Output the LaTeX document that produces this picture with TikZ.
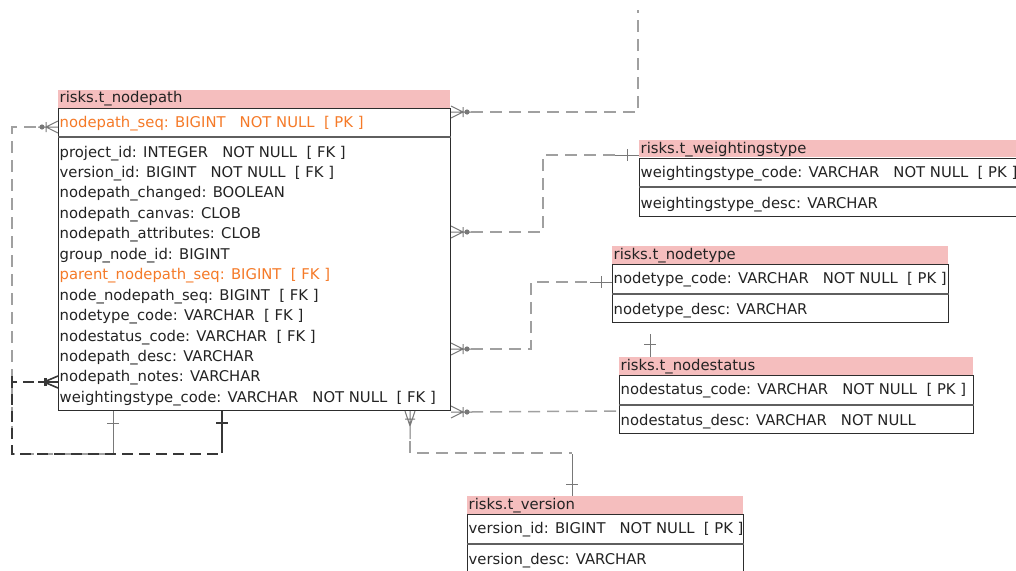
\documentclass[tikz,border=0pt]{standalone}
\usepackage{fontspec}
\newfontfamily\tabfont{DejaVu Sans}
\usetikzlibrary{calc}

\definecolor{hdrpink}{RGB}{245,190,190}
\definecolor{pkorange}{RGB}{245,122,40}
\definecolor{txtdark}{RGB}{35,35,35}
\definecolor{tblline}{RGB}{45,45,45}
\definecolor{divgrey}{RGB}{95,95,95}
\definecolor{relgrey}{RGB}{160,160,160}
\definecolor{relsolid}{RGB}{120,120,120}
\definecolor{selfdark}{RGB}{55,55,55}

\tikzset{
  tbl/.style={draw=tblline, line width=1pt, fill=white, inner sep=0pt, anchor=north west},
  hdr/.style={fill=hdrpink, inner sep=0pt, anchor=north west},
  txt/.style={anchor=base west, inner xsep=1.5pt, inner ysep=0pt,
              font=\tabfont\fontsize{14.8pt}{17pt}\selectfont, text=txtdark},
  pktxt/.style={txt, text=pkorange},
  divline/.style={draw=divgrey, line width=1.4pt},
  reldash/.style={draw=relgrey, line width=1.5pt, dash pattern=on 12pt off 7pt},
  relline/.style={draw=relsolid, line width=1pt},
  selfdash/.style={draw=selfdark, line width=2pt, dash pattern=on 11pt off 6pt},
  selfline/.style={draw=selfdark, line width=2pt},
  % zero-or-many end: crow's foot, bar and small circle
  manyopt/.pic={
    \draw[relline] (0,-6) -- (12,0) -- (0,6) (0,0) -- (20,0) (12,-5) -- (12,5);
    \fill[relsolid] (16,0) circle (2.6pt);
  },
  % one-or-many end: crow's foot with a bar
  manyone/.pic={
    \draw[relline] (0,-5) -- (15,0) -- (0,5) (0,0) -- (28,0) (8,-5) -- (8,5);
  },
  % bold crow's foot of the second self relation
  manydark/.pic={
    \draw[selfline, line width=1.6pt] (0,-6) -- (14,0) -- (0,6) (0,0) -- (20,0);
    \draw[selfline, line width=3pt] (13,-4) -- (13,4);
  },
}

\begin{document}
\begin{tikzpicture}[x=1pt,y=-1pt]
\useasboundingbox (0,0) rectangle (1016,570);
\clip (0,0) rectangle (1016,570);

% ---------------- risks.t_nodepath ----------------
\node[hdr, minimum width=392pt, minimum height=18pt] (nph) at (58,90) {};
\node[txt] (npt) at (58,102) {risks.t\_nodepath};
\node[tbl, minimum width=392pt, minimum height=302pt] (np) at (58,108) {};
\draw[divline] ($(np.north west)+(0,29)$) -- ($(np.north east)+(0,29)$);
\node[pktxt] (np-pk) at (58,127) {nodepath\_seq: BIGINT~~~NOT NULL~~[ PK ]};
\foreach \t [count=\i] in {
  {project\_id: INTEGER~~~NOT NULL~~[ FK ]},
  {version\_id: BIGINT~~~NOT NULL~~[ FK ]},
  {nodepath\_changed: BOOLEAN},
  {nodepath\_canvas: CLOB},
  {nodepath\_attributes: CLOB},
  {group\_node\_id: BIGINT},
  {\color{pkorange}parent\_nodepath\_seq: BIGINT~~[ FK ]},
  {node\_nodepath\_seq: BIGINT~~[ FK ]},
  {nodetype\_code: VARCHAR~~[ FK ]},
  {nodestatus\_code: VARCHAR~~[ FK ]},
  {nodepath\_desc: VARCHAR},
  {nodepath\_notes: VARCHAR},
  {weightingstype\_code: VARCHAR~~~NOT NULL~~[ FK ]}}
  \node[txt] (np-r\i) at (58,{157+(\i-1)*20.45}) {\t};

% ---------------- risks.t_weightingstype ----------------
\node[hdr, minimum width=400pt, minimum height=17pt] (wth) at (639,140) {};
\node[txt] (wtt) at (639,153) {risks.t\_weightingstype};
\node[tbl, minimum width=400pt, minimum height=58pt] (wt) at (639,158) {};
\draw[divline] ($(wt.north west)+(0,29)$) -- ($(wt.north east)+(0,29)$);
\node[txt] (wt-r1) at (639,177) {weightingstype\_code: VARCHAR~~~NOT NULL~~[ PK ]};
\node[txt] (wt-r2) at (639,208) {weightingstype\_desc: VARCHAR};

% ---------------- risks.t_nodetype ----------------
\node[hdr, minimum width=336pt, minimum height=18pt] (nth) at (612,246) {};
\node[txt] (ntt) at (612,259) {risks.t\_nodetype};
\node[tbl, minimum width=336pt, minimum height=58pt] (nt) at (612,264) {};
\draw[divline] ($(nt.north west)+(0,30)$) -- ($(nt.north east)+(0,30)$);
\node[txt] (nt-r1) at (612,283) {nodetype\_code: VARCHAR~~~NOT NULL~~[ PK ]};
\node[txt] (nt-r2) at (612,314) {nodetype\_desc: VARCHAR};

% ---------------- risks.t_nodestatus ----------------
\node[hdr, minimum width=354pt, minimum height=18pt] (nsh) at (619,357) {};
\node[txt] (nst) at (619,370) {risks.t\_nodestatus};
\node[tbl, minimum width=354pt, minimum height=58pt] (ns) at (619,375) {};
\draw[divline] ($(ns.north west)+(0,30)$) -- ($(ns.north east)+(0,30)$);
\node[txt] (ns-r1) at (619,394) {nodestatus\_code: VARCHAR~~~NOT NULL~~[ PK ]};
\node[txt] (ns-r2) at (619,425) {nodestatus\_desc: VARCHAR~~~NOT NULL};

% ---------------- risks.t_version ----------------
\node[hdr, minimum width=276pt, minimum height=18pt] (vh) at (467,496) {};
\node[txt] (vt) at (467,509) {risks.t\_version};
\node[tbl, minimum width=276pt, minimum height=80pt] (vr) at (467,514) {};
\draw[divline] ($(vr.north west)+(0,30)$) -- ($(vr.north east)+(0,30)$);
\node[txt] (vr-r1) at (467,533) {version\_id: BIGINT~~~NOT NULL~~[ PK ]};
\node[txt] (vr-r2) at (467,564) {version\_desc: VARCHAR};

% ---------------- relations ----------------
% upward link leaving the picture
\coordinate (topend) at (638,10);
\pic at ($(np.north east)+(0,4)$) {manyopt};
\draw[reldash] ($(np.north east)+(20,4)$) -| (topend);

% t_nodepath -> t_weightingstype
\pic at ($(np.north east)+(0,124)$) {manyopt};
\draw[reldash] ($(np.north east)+(20,124)$) -| ($(wt.north west)+(-96,-3)$) -- ($(wt.north west)+(-22,-3)$);
\draw[relline] ($(wt.north west)+(-24,-3)$) -- ($(wt.north west)+(0,-3)$)
               ($(wt.north west)+(-12,-9)$) -- ($(wt.north west)+(-12,3)$);

% t_nodepath -> t_nodetype
\pic at ($(np.north east)+(0,241)$) {manyopt};
\draw[reldash] ($(np.north east)+(20,241)$) -| ($(nt.north west)+(-81,18)$) -- ($(nt.north west)+(-20,18)$);
\draw[relline] ($(nt.north west)+(-22,18)$) -- ($(nt.north west)+(0,18)$)
               ($(nt.north west)+(-11,12)$) -- ($(nt.north west)+(-11,24)$);

% t_nodepath -> t_nodestatus
\pic at ($(np.south east)+(0,1)$) {manyopt};
\draw[reldash] ($(np.south east)+(20,1)$) -- ($(ns.north west)+(0,36)$);

% t_nodepath -> t_version
\pic[rotate=-90] at ($(np.south east)+(-41,0)$) {manyone};
\draw[reldash] ($(np.south east)+(-41,30)$) |- ($(vh.north west)+(105,-43)$);
\draw[relline] ($(vh.north west)+(105,-42)$) -- ($(vh.north west)+(105,0)$)
               ($(vh.north west)+(99,-12)$) -- ($(vh.north west)+(111,-12)$);

% t_nodetype -- t_nodestatus
\draw[relline] ($(nt.south west)+(38,11)$) -- ($(nsh.north west)+(31,0)$)
               ($(nt.south west)+(32,21)$) -- ($(nt.south west)+(44,21)$);

% self relation on nodepath_seq
\pic[rotate=180] at ($(np.north west)+(0,19)$) {manyopt};
\draw[reldash] ($(np.north west)+(-22,19)$) -- ($(np.north west)+(-46,19)$) |- ($(np.south west)+(55,43)$);
\draw[relline] ($(np.south west)+(55,42)$) -- ($(np.south west)+(55,0)$)
               ($(np.south west)+(49,12)$) -- ($(np.south west)+(61,12)$);

% self relation on parent_nodepath_seq
\pic[rotate=180] at ($(np.north west)+(0,274)$) {manydark};
\draw[selfdash] ($(np.north west)+(-24,274)$) -- ($(np.north west)+(-46,274)$) |- ($(np.south west)+(164,43)$);
\draw[selfline] ($(np.south west)+(164,42)$) -- ($(np.south west)+(164,0)$)
                ($(np.south west)+(158,12)$) -- ($(np.south west)+(170,12)$);
\draw[selfline] ($(np.north west)+(-46,268)$) -- ($(np.north west)+(-46,280)$);
\end{tikzpicture}
\end{document}
